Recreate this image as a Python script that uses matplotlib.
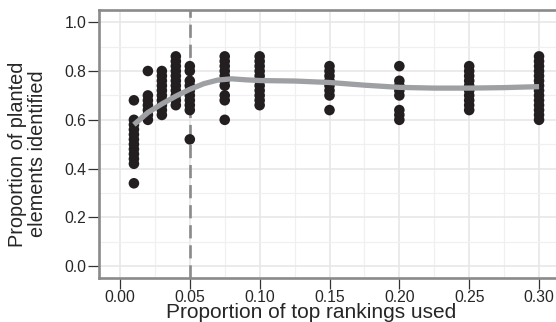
import numpy as np
import matplotlib
matplotlib.use("Agg")
import matplotlib.pyplot as plt
from matplotlib.ticker import MultipleLocator

# ---------------------------------------------------------
# DATA
# ---------------------------------------------------------

prop_used = [0.01, 0.02, 0.03, 0.04, 0.05, 0.075, 0.10, 0.15, 0.20, 0.25, 0.30]

identified = [
    [0.68, 0.60, 0.58, 0.56, 0.54, 0.52, 0.50, 0.48, 0.46, 0.44, 0.42, 0.34],
    [0.80, 0.70, 0.68, 0.66, 0.64, 0.62, 0.60],
    [0.80, 0.78, 0.76, 0.74, 0.72, 0.70, 0.68, 0.66, 0.64, 0.62],
    [0.86, 0.84, 0.82, 0.80, 0.78, 0.76, 0.74, 0.72, 0.70, 0.68, 0.66],
    [0.82, 0.80, 0.76, 0.74, 0.72, 0.70, 0.68, 0.66, 0.64, 0.52],
    [0.86, 0.84, 0.82, 0.80, 0.78, 0.76, 0.74, 0.70, 0.68, 0.60],
    [0.86, 0.84, 0.82, 0.80, 0.78, 0.76, 0.74, 0.72, 0.70, 0.68, 0.66],
    [0.82, 0.80, 0.78, 0.76, 0.74, 0.72, 0.70, 0.64],
    [0.82, 0.76, 0.74, 0.72, 0.70, 0.64, 0.62, 0.60],
    [0.82, 0.80, 0.78, 0.76, 0.74, 0.72, 0.70, 0.68, 0.66, 0.64],
    [0.86, 0.84, 0.82, 0.80, 0.78, 0.76, 0.74, 0.72, 0.70, 0.68, 0.66, 0.64, 0.62, 0.60],
]

# smoothed trend
smooth_x = [0.01, 0.02, 0.03, 0.04, 0.05, 0.06, 0.07, 0.08, 0.09, 0.10,
            0.125, 0.15, 0.175, 0.20, 0.225, 0.25, 0.275, 0.30]
smooth_y = [0.58, 0.63, 0.665, 0.697, 0.725, 0.748, 0.763, 0.768, 0.764, 0.761,
            0.759, 0.753, 0.742, 0.733, 0.730, 0.730, 0.732, 0.736]

cutoff = 0.05

x_ticks = [0.00, 0.05, 0.10, 0.15, 0.20, 0.25, 0.30]
y_ticks = [0.0, 0.2, 0.4, 0.6, 0.8, 1.0]

# ---------------------------------------------------------
# PLOT
# ---------------------------------------------------------

plt.rcParams["font.family"] = ["Liberation Sans", "DejaVu Sans"]

fig = plt.figure(figsize=(5.56, 3.22), dpi=100)
ax = fig.add_axes([99 / 556, 1 - 277.5 / 322, 461 / 556, 267.5 / 322])

xs = np.concatenate([[x] * len(v) for x, v in zip(prop_used, identified)])
ys = np.concatenate(identified)

ax.axvline(cutoff, color="#8a8a8c", lw=1.9, ls=(0, (5, 2.6)), zorder=2)
ax.scatter(xs, ys, s=58, color="#231f20", edgecolor="none", zorder=3)
ax.plot(smooth_x, smooth_y, color="#9fa0a3", lw=3.8, solid_capstyle="butt", zorder=4)

ax.set_xlim(-0.015, 0.315)
ax.set_ylim(-0.046, 1.05)
ax.set_xticks(x_ticks)
ax.set_xticklabels([f"{t:.2f}" for t in x_ticks])
ax.set_yticks(y_ticks)
ax.set_yticklabels([f"{t:.1f}" for t in y_ticks])
ax.xaxis.set_minor_locator(MultipleLocator(0.025))
ax.yaxis.set_minor_locator(MultipleLocator(0.1))

ax.grid(which="major", color="#e6e6e6", lw=1.1)
ax.grid(which="minor", color="#f0f0f0", lw=0.9)
ax.set_axisbelow(True)

for side in ["left", "bottom", "top", "right"]:
    ax.spines[side].set_color("#8a8a8a")
    ax.spines[side].set_linewidth(1.9)

ax.tick_params(which="major", length=8, width=0.9, color="#333333",
               labelsize=11.3, labelcolor="#262626", pad=1)
ax.tick_params(which="minor", length=0)

ax.set_xlabel("Proportion of top rankings used", fontsize=15, color="#262626")
ax.xaxis.set_label_coords(0.46, -0.095)
ax.set_ylabel("Proportion of planted\nelements identified", fontsize=14.3,
              color="#262626", linespacing=1.05)
ax.yaxis.set_label_coords(-0.113, 0.462)

fig.savefig("out.png", dpi=100)
